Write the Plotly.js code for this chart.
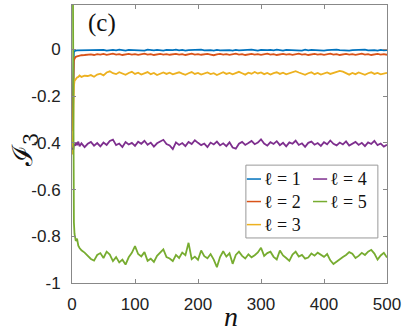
<!DOCTYPE html>
<html>
<head>
<meta charset="utf-8">
<script src="https://cdn.plot.ly/plotly-3.0.1.min.js"></script>
<style>html,body{margin:0;padding:0;background:#fff}</style>
</head>
<body>
<div id="chart" style="width:407px;height:332px"></div>
<script>
// step numbers n
const steps = [1, 2, 3, 4, 5, 6, 8, 10, 12, 15, 20,
  25, 30, 35, 40, 45, 50, 55, 60, 65, 70, 75, 80, 85, 90, 95, 100,
  105, 110, 115, 120, 125, 130, 135, 140, 145, 150, 155, 160, 165, 170, 175, 180, 185, 190, 195, 200,
  205, 210, 215, 220, 225, 230, 235, 240, 245, 250, 255, 260, 265, 270, 275, 280, 285, 290, 295, 300,
  305, 310, 315, 320, 325, 330, 335, 340, 345, 350, 355, 360, 365, 370, 375, 380, 385, 390, 395, 400,
  405, 410, 415, 420, 425, 430, 435, 440, 445, 450, 455, 460, 465, 470, 475, 480, 485, 490, 495, 500];

const names = ['ℓ = 1', 'ℓ = 2', 'ℓ = 3', 'ℓ = 4', 'ℓ = 5'];
const colors = ['#0072BD', '#D95319', '#EDB120', '#7E2F8E', '#77AC30'];

const l1 = [-0.30, -0.03, -0.012, -0.008, -0.006, -0.005, -0.004, -0.004, -0.003, -0.004, -0.003,
  -0.002, -0.004, -0.003, -0.001, -0.004, -0.002, -0.005, -0.003, -0.002, -0.004, -0.001, -0.003, -0.005, -0.002, -0.003, -0.004,
  -0.002, -0.003, -0.005, -0.001, -0.003, -0.004, -0.002, -0.003, -0.005, -0.002, -0.004, -0.003, -0.001, -0.004, -0.002, -0.005, -0.003, -0.002, -0.004, -0.003,
  -0.001, -0.004, -0.002, -0.003, -0.005, -0.002, -0.004, -0.003, -0.001, -0.003, -0.005, -0.002, -0.004, -0.003, -0.002, -0.004, -0.001, -0.003, -0.005, -0.002,
  -0.004, -0.003, -0.002, -0.004, -0.001, -0.003, -0.005, -0.002, -0.003, -0.004, -0.002, -0.003, -0.005, -0.001, -0.004, -0.002, -0.003, -0.004, -0.002, -0.005,
  -0.003, -0.002, -0.004, -0.001, -0.003, -0.004, -0.002, -0.005, -0.003, -0.002, -0.004, -0.003, -0.001, -0.004, -0.002, -0.003, -0.005, -0.002, -0.004, -0.003];

const l2 = [-0.35, -0.08, -0.05, -0.04, -0.035, -0.032, -0.03, -0.028, -0.027, -0.025, -0.024,
  -0.023, -0.021, -0.024, -0.020, -0.022, -0.019, -0.023, -0.021, -0.018, -0.022, -0.020, -0.024, -0.021, -0.019, -0.022, -0.020,
  -0.023, -0.021, -0.018, -0.022, -0.020, -0.024, -0.021, -0.019, -0.022, -0.020, -0.023, -0.021, -0.019, -0.022, -0.020, -0.024, -0.021, -0.018, -0.022, -0.020,
  -0.023, -0.021, -0.019, -0.022, -0.025, -0.021, -0.019, -0.022, -0.020, -0.023, -0.021, -0.018, -0.022, -0.020, -0.024, -0.021, -0.019, -0.022, -0.020, -0.023,
  -0.021, -0.018, -0.022, -0.020, -0.024, -0.021, -0.019, -0.022, -0.020, -0.023, -0.021, -0.018, -0.022, -0.020, -0.024, -0.021, -0.019, -0.022, -0.020, -0.023,
  -0.021, -0.018, -0.022, -0.020, -0.024, -0.021, -0.019, -0.022, -0.020, -0.023, -0.021, -0.018, -0.022, -0.020, -0.024, -0.021, -0.019, -0.022, -0.020, -0.023];

const l3 = [-0.45, -0.25, -0.16, -0.135, -0.13, -0.125, -0.12, -0.118, -0.112, -0.118, -0.113,
  -0.114, -0.110, -0.117, -0.108, -0.104, -0.111, -0.099, -0.094, -0.102, -0.106, -0.098, -0.103, -0.109, -0.101, -0.096, -0.105,
  -0.100, -0.108, -0.103, -0.097, -0.106, -0.101, -0.110, -0.104, -0.099, -0.105, -0.100, -0.107, -0.103, -0.098, -0.104, -0.109, -0.102, -0.097, -0.105, -0.101,
  -0.108, -0.103, -0.099, -0.106, -0.102, -0.110, -0.104, -0.098, -0.105, -0.101, -0.107, -0.103, -0.096, -0.102, -0.108, -0.100, -0.104, -0.097, -0.103, -0.099,
  -0.106, -0.101, -0.108, -0.102, -0.098, -0.105, -0.100, -0.107, -0.103, -0.097, -0.093, -0.099, -0.104, -0.109, -0.102, -0.098, -0.106, -0.101, -0.108, -0.103,
  -0.099, -0.105, -0.100, -0.096, -0.092, -0.095, -0.103, -0.108, -0.101, -0.106, -0.099, -0.104, -0.109, -0.102, -0.098, -0.105, -0.101, -0.107, -0.103, -0.100];

const l4 = [-0.42, -0.43, -0.41, -0.405, -0.413, -0.398, -0.41, -0.395, -0.415, -0.402, -0.418,
  -0.404, -0.396, -0.412, -0.401, -0.415, -0.399, -0.409, -0.392, -0.386, -0.410, -0.403, -0.418, -0.397, -0.407, -0.400, -0.413,
  -0.395, -0.404, -0.391, -0.408, -0.399, -0.416, -0.402, -0.394, -0.387, -0.405, -0.411, -0.427, -0.398, -0.409, -0.401, -0.414, -0.396, -0.405, -0.389, -0.400,
  -0.410, -0.403, -0.418, -0.399, -0.407, -0.395, -0.411, -0.402, -0.414, -0.398, -0.420, -0.425, -0.404, -0.396, -0.409, -0.401, -0.392, -0.406, -0.399, -0.385,
  -0.403, -0.412, -0.397, -0.405, -0.393, -0.410, -0.400, -0.415, -0.398, -0.404, -0.391, -0.409, -0.402, -0.417, -0.400, -0.395, -0.408, -0.401, -0.413, -0.397,
  -0.406, -0.390, -0.404, -0.411, -0.399, -0.407, -0.394, -0.412, -0.403, -0.396, -0.409, -0.400, -0.414, -0.398, -0.405, -0.392, -0.410, -0.403, -0.416, -0.408];

const l5 = [0.60, -0.30, -0.74, -0.79, -0.80, -0.82, -0.81, -0.84, -0.85, -0.86, -0.87,
  -0.885, -0.897, -0.904, -0.880, -0.872, -0.893, -0.866, -0.878, -0.906, -0.889, -0.912, -0.900, -0.921, -0.890, -0.871, -0.842,
  -0.876, -0.886, -0.868, -0.905, -0.896, -0.910, -0.884, -0.872, -0.856, -0.889, -0.895, -0.906, -0.880, -0.893, -0.870, -0.881, -0.828, -0.898, -0.887, -0.901,
  -0.861, -0.885, -0.894, -0.876, -0.900, -0.932, -0.889, -0.864, -0.887, -0.873, -0.918, -0.880, -0.866, -0.884, -0.895, -0.877, -0.890, -0.881, -0.869, -0.849,
  -0.884, -0.872, -0.866, -0.888, -0.899, -0.861, -0.882, -0.893, -0.905, -0.878, -0.866, -0.887, -0.880, -0.896, -0.891, -0.874, -0.883, -0.870, -0.879, -0.888,
  -0.876, -0.903, -0.919, -0.908, -0.897, -0.889, -0.880, -0.868, -0.875, -0.893, -0.884, -0.871, -0.880, -0.866, -0.858, -0.874, -0.900, -0.882, -0.871, -0.891];

const series = [l1, l2, l3, l4, l5];

const data = series.map(function (ys, i) {
  return {
    x: steps,
    y: ys,
    name: names[i],
    mode: 'lines',
    line: { color: colors[i], width: 1.8 },
    showlegend: false
  };
});

// legenda rysowana recznie: dwie kolumny jak w MATLAB-ie
const shapes = [{
  type: 'rect', xref: 'paper', yref: 'paper',
  x0: 0.552, x1: 0.971, y0: 0.162, y1: 0.424,
  fillcolor: '#fff', line: { color: '#999', width: 1 }, layer: 'above'
}];
const annotations = [];
const colX = [0.555, 0.765];
const rowY = [0.374, 0.293, 0.210];
names.forEach(function (nm, i) {
  const c = Math.floor(i / 3), r = i % 3;
  shapes.push({
    type: 'line', xref: 'paper', yref: 'paper', layer: 'above',
    x0: colX[c], x1: colX[c] + 0.045, y0: rowY[r], y1: rowY[r],
    line: { color: colors[i], width: 1.5 }
  });
  annotations.push({
    xref: 'paper', yref: 'paper', x: colX[c] + 0.048, y: rowY[r],
    xanchor: 'left', yanchor: 'middle', showarrow: false,
    text: nm, font: { family: 'Liberation Serif', size: 18, color: '#111' }
  });
});

annotations.push({
  xref: 'paper', yref: 'paper', x: 0.044, y: 0.935, xanchor: 'left', yanchor: 'middle',
  showarrow: false, text: '(c)', font: { family: 'Liberation Serif', size: 25, color: '#111' }
});
annotations.push({
  xref: 'paper', yref: 'paper', x: 0.505, y: -0.121, xanchor: 'center', yanchor: 'middle',
  showarrow: false, text: '<i>n</i>', font: { family: 'Liberation Serif', size: 28, color: '#111' }
});
annotations.push({
  xref: 'paper', yref: 'paper', x: -0.152, y: 0.478, xanchor: 'center', yanchor: 'middle',
  showarrow: false, textangle: -90, text: 'ℐ<sub>3</sub>',
  font: { family: 'DejaVu Serif', size: 28, color: '#111' }
});

const axisCommon = {
  showline: true, mirror: 'ticks', linecolor: '#888', linewidth: 1,
  ticks: 'inside', ticklen: 4, tickcolor: '#888',
  showgrid: false, zeroline: false,
  tickfont: { family: 'Liberation Sans', size: 17, color: '#222' }
};

const layout = {
  width: 407, height: 332,
  margin: { l: 72, r: 20, t: 5, b: 49 },
  paper_bgcolor: '#fff', plot_bgcolor: '#fff',
  showlegend: false,
  xaxis: Object.assign({}, axisCommon, {
    range: [0, 500], tickvals: [0, 100, 200, 300, 400, 500], ticklabelstandoff: 6
  }),
  yaxis: Object.assign({}, axisCommon, {
    range: [-1, 0.19], tickvals: [-1, -0.8, -0.6, -0.4, -0.2, 0],
    ticktext: ['-1', '-0.8', '-0.6', '-0.4', '-0.2', '0'], ticklabelstandoff: 7
  }),
  shapes: shapes,
  annotations: annotations
};

Plotly.newPlot('chart', data, layout, { displayModeBar: false, staticPlot: true });
</script>
</body>
</html>
